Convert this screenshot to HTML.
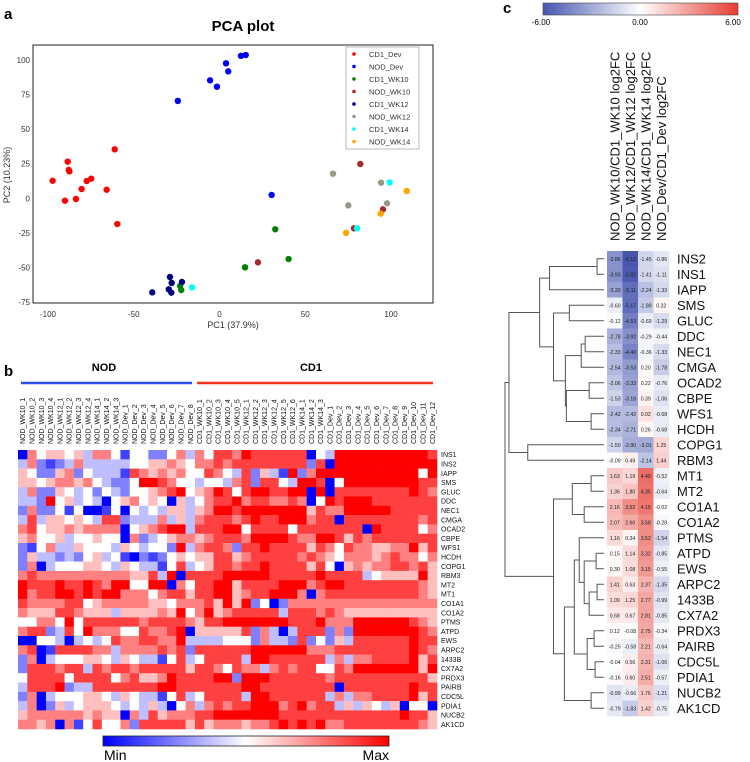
<!DOCTYPE html>
<html><head><meta charset="utf-8"><style>
html,body{margin:0;padding:0;background:#fff}
svg{display:block;font-family:"Liberation Sans",Arial,sans-serif}
</style></head><body>
<svg id="fig" width="750" height="762" viewBox="0 0 750 762" xmlns="http://www.w3.org/2000/svg">
<text x="4" y="19" font-size="15" font-weight="bold">a</text>
<text x="243" y="31" font-size="15" font-weight="bold" text-anchor="middle">PCA plot</text>
<g id="pca"></g>
<text x="4" y="376" font-size="15" font-weight="bold">b</text>
<text x="104" y="371" font-size="11" font-weight="bold" text-anchor="middle">NOD</text>
<text x="311" y="371" font-size="11" font-weight="bold" text-anchor="middle">CD1</text>
<line x1="21" y1="383" x2="192" y2="383" stroke="#2b4ef0" stroke-width="2.5"/>
<line x1="197" y1="383" x2="433" y2="383" stroke="#f0341e" stroke-width="2.5"/>
<g id="hmb"></g>
<defs>
<linearGradient id="gb" x1="0" x2="1" y1="0" y2="0"><stop offset="0" stop-color="#0000ff"/><stop offset="0.5" stop-color="#ffffff"/><stop offset="1" stop-color="#ff0000"/></linearGradient>
<linearGradient id="gc" x1="0" x2="1" y1="0" y2="0"><stop offset="0" stop-color="#4656af"/><stop offset="0.5" stop-color="#ffffff"/><stop offset="1" stop-color="#e63c32"/></linearGradient>
</defs>
<rect x="103" y="736" width="286" height="10" fill="url(#gb)" stroke="#222" stroke-width="0.8"/>
<text x="104" y="760" font-size="14">Min</text>
<text x="389" y="760" font-size="14" text-anchor="end">Max</text>
<text x="503" y="13" font-size="15" font-weight="bold">c</text>
<rect x="543" y="3" width="195" height="12" fill="url(#gc)" stroke="#444" stroke-width="0.6"/>
<text x="541" y="25" font-size="8" text-anchor="middle">-6.00</text>
<text x="640" y="25" font-size="8" text-anchor="middle">0.00</text>
<text x="733" y="25" font-size="8" text-anchor="middle">6.00</text>
<g id="hmc"></g>
</svg>
<script>
// ---------- PCA data ----------
const pcaGroups = ["CD1_Dev","NOD_Dev","CD1_WK10","NOD_WK10","CD1_WK12","NOD_WK12","CD1_WK14","NOD_WK14"];
const pcaColors = ["#ff0000","#0000ff","#008000","#a52a2a","#000080","#999988","#00ffff","#ffa500"];
const pcaX = [
 [-97.3,-90.1,-88.5,-87.9,-87.5,-83.7,-80.4,-77.4,-74.8,-65.8,-61.1,-59.6],
 [-24.3,-5.5,-1.5,3.8,5.1,12.5,15.3,30.4],
 [32.5,40.3,14.9,-23,-22.3],
 [82.1,95.3,78.4,22.4],
 [-39.2,-28.9,-27.9,-21.9,-29.6,-28.1],
 [66.2,94.2,75.1,97.7],
 [99.2,80.2,-16],
 [109.2,94,73.8]];
const pcaY = [
 [12.7,-1.7,26.5,20.5,19.5,-0.5,6.7,12.5,14.2,6.2,35.4,-18.6],
 [70.4,85.3,80.7,97.6,91.8,103,103.6,2.4],
 [-22.4,-43.9,-49.9,-63.4,-66.3],
 [24.8,-8,-21.7,-46.3],
 [-68,-56.9,-61.2,-60.5,-65.8,-68.2],
 [17.8,11.3,-5.1,-3.6],
 [11.5,-21.7,-64.4],
 [5.3,-11.1,-25]];
const pcaXTicks = [-100,-50,0,50,100];
const pcaYTicks = [100,75,50,25,0,-25,-50,-75];

// ---------- Heatmap b data (levels 0=min .. 8=max) ----------
const genesB = ["INS1","INS2","IAPP","SMS","GLUC","DDC","NEC1","CMGA","OCAD2","CBPE","WFS1","HCDH","COPG1","RBM3","MT2","MT1","CO1A1","CO1A2","PTMS","ATPD","EWS","ARPC2","1433B","CX7A2","PRDX3","PAIRB","CDC5L","PDIA1","NUCB2","AK1CD"];
const samplesB = ["NOD_WK10_1","NOD_WK10_2","NOD_WK10_3","NOD_WK10_4","NOD_WK12_1","NOD_WK12_2","NOD_WK12_3","NOD_WK12_4","NOD_WK14_1","NOD_WK14_2","NOD_WK14_3","NOD_Dev_1","NOD_Dev_2","NOD_Dev_3","NOD_Dev_4","NOD_Dev_5","NOD_Dev_6","NOD_Dev_7","NOD_Dev_8",
 "CD1_WK10_1","CD1_WK10_2","CD1_WK10_3","CD1_WK10_4","CD1_WK10_5","CD1_WK12_1","CD1_WK12_2","CD1_WK12_3","CD1_WK12_4","CD1_WK12_5","CD1_WK12_6","CD1_WK14_1","CD1_WK14_2","CD1_WK14_3",
 "CD1_Dev_1","CD1_Dev_2","CD1_Dev_3","CD1_Dev_4","CD1_Dev_5","CD1_Dev_6","CD1_Dev_7","CD1_Dev_8","CD1_Dev_9","CD1_Dev_10","CD1_Dev_11","CD1_Dev_12"];
const valuesNOD = ["0645545366414422463","3621236333334455654","5422562433317656564","5545665643224887644","3622543424324456784","3328453430456454053","2622414001404343553","3735545437723336353","6745565666604567883","5644534454406234566","2146335444354344283","2533232453410212454","2603444554354331473","6766666666665573807","8777877876884488064","8677887878866646775","7666677456666655466","6555776555355556584","4466484777777677776","6772374866644766780","0044303434766776683","6701777766366667672","2603444554354331473","2777677376776777775","4777747777467556877","3777823377777778877","2603444554354331473","3602534555434353046","5666666565506375666","6656061474462777775"];
const valuesCD1 = ["64776877777704388888888887","66767777777727088888888888","47643725318268888888888848","34436727743887048888888877","56874788778808077777777876","46778677667604878887777777","56887888888857668888877777","67776787788867707777777767","77788477774777777708777746","56777688887668875767777777","67762778777757647665566857","55775677777676546665676646","45776778777757405656677675","77788888777778777734555585","77885777788867887777777765","77885677888606777777777765","67585824026666666666666666","68567777737776765555555555","57788888887778666888888765","55555726303777262888888876","33344426332724253777777877","77777788888866677777777876","47777388777777363667777857","77647663676774476888888858","77882888777777677777777775","77777887777777707777777877","47777388777777363667777857","36767788867867735354350440","77888888877777777777778775","75666566787878667777777765"];

// ---------- Heatmap c data (log2FC) ----------
const genesC = ["INS2","INS1","IAPP","SMS","GLUC","DDC","NEC1","CMGA","OCAD2","CBPE","WFS1","HCDH","COPG1","RBM3","MT1","MT2","CO1A1","CO1A2","PTMS","ATPD","EWS","ARPC2","1433B","CX7A2","PRDX3","PAIRB","CDC5L","PDIA1","NUCB2","AK1CD"];
const comparisonsC = ["NOD_WK10/CD1_WK10 log2FC","NOD_WK12/CD1_WK12 log2FC","NOD_WK14/CD1_WK14 log2FC","NOD_Dev/CD1_Dev log2FC"];
const fcWK10 = [-3.86,-3.93,-3.33,-0.60,-0.12,-2.78,-2.33,-2.54,-2.06,-1.53,-2.42,-2.34,-1.50,-0.09,1.63,1.36,2.16,2.07,1.16,0.15,0.30,1.41,1.09,0.68,0.12,-0.25,-0.04,-0.16,-0.99,-0.79];
const fcWK12 = [-6.12,-5.82,-5.11,-5.17,-4.53,-3.92,-4.40,-3.53,-3.33,-3.18,-2.42,-2.71,-2.90,0.49,1.19,1.80,3.52,2.60,0.34,1.14,1.08,0.63,1.25,0.67,-0.08,-0.58,0.56,0.60,-0.66,-1.83];
const fcWK14 = [-1.45,-1.41,-2.24,-1.89,-0.69,-0.29,-0.36,0.20,0.22,0.39,0.92,0.26,-3.01,-2.14,4.49,4.35,4.15,3.58,3.52,3.32,3.15,2.37,2.77,2.81,2.75,2.21,2.31,2.51,1.76,1.42];
const fcDev = [-0.86,-1.11,-1.33,0.32,-1.29,-0.44,-1.33,-1.78,-0.76,-1.06,-0.68,-0.68,1.25,1.44,-0.52,-0.64,-0.02,-0.28,-1.54,-0.85,-0.55,-1.35,-0.99,-0.85,-0.34,-0.64,-1.06,-0.57,-1.21,-0.75];
// dendrogram clusters: [left, right, height]
const clA = [["INS2","INS1",0.7],"IAPP",5.5];
const clC1 = [["DDC","NEC1",1.9],"CMGA",2.3];
const clC2 = [["OCAD2","CBPE",1.5],["WFS1","HCDH",1.3],3.8];
const clBC = [["SMS","GLUC",3.5],[clC1,clC2,3.9],5.1];
const clU = [[clA,clBC,6.5],["COPG1","RBM3",7.7],9.6];
const clM = [["MT1","MT2",1.3],["CO1A1","CO1A2",2.0],3.2];
const clQ = [["ATPD","EWS",0.8],[["ARPC2","1433B",0.7],"CX7A2",1.5],2.0];
const clR = [["PRDX3","PAIRB",1.0],["CDC5L","PDIA1",0.9],1.7];
const clP = [["PTMS",clQ,2.5],clR,3.0];
const clL = [clM,[clP,["NUCB2","AK1CD",1.3],4.0],5.1];
const dendroTree = [clU,clL,10.0];

const NS="http://www.w3.org/2000/svg";
function mk(tag, attrs, parent){const e=document.createElementNS(NS,tag);for(const k in attrs)e.setAttribute(k,attrs[k]);parent.appendChild(e);return e;}

// ---------- PCA ----------
(function(){
 const g=document.getElementById('pca');
 const x0=33,x1=433,y0=45,y1=303;
 const sx=v=>48+(v+100)*1.715, sy=v=>60+(100-v)*1.383;
 const frame=mk('rect',{x:x0,y:y0,width:x1-x0,height:y1-y0,fill:'#fff',stroke:'#222','stroke-width':1},g);
 
 
 pcaXTicks.forEach(t=>{const e=mk('text',{x:sx(t),y:317,'font-size':8,'text-anchor':'middle',fill:'#333'},g);e.textContent=t;
  
  });
 pcaYTicks.forEach(t=>{const e=mk('text',{x:30,y:sy(t)+3,'font-size':8,'text-anchor':'end',fill:'#333'},g);e.textContent=t;
  
  });
 const xl=mk('text',{x:233,y:328,'font-size':9,'text-anchor':'middle',fill:'#333'},g);xl.textContent='PC1  (37.9%)';
 
 
 const yl=mk('text',{x:0,y:0,'font-size':9,'text-anchor':'middle',fill:'#333',transform:'translate(10,175) rotate(-90)'},g);yl.textContent='PC2  (10.23%)';
 
 
 pcaGroups.forEach((grp,i)=>{
  pcaX[i].forEach((xv,j)=>{const c=mk('circle',{cx:sx(xv),cy:sy(pcaY[i][j]),r:3.2,fill:pcaColors[i]},g);
   
   });
 });
 const lg=mk('rect',{x:346,y:47,width:73,height:102,fill:'#fff',stroke:'#aaa','stroke-width':0.8},g);
 
 
 pcaGroups.forEach((grp,i)=>{const yy=54+i*12.5;
  const m=mk('circle',{cx:354,cy:yy,r:1.8,fill:pcaColors[i]},g);
  
  
  const t=mk('text',{x:369,y:yy+2.8,'font-size':7.5,fill:'#333'},g);t.textContent=grp;
  
  });
})();

// ---------- Heatmap b ----------
(function(){
 const g=document.getElementById('hmb');
 const x0=18,y0=450,cw=419/45,rh=279/30;
 function col(l){const t=l/8;let r,gg,b;if(t<0.5){const u=t/0.5;r=Math.round(255*u);gg=r;b=255;}else{const u=(t-0.5)/0.5;r=255;gg=Math.round(255*(1-u));b=gg;}return `rgb(${r},${gg},${b})`;}
 genesB.forEach((gn,i)=>{
  const row=(valuesNOD[i]+valuesCD1[i]);
  samplesB.forEach((s,j)=>{const ch=row[j];const lv=ch===undefined?4:+ch;
   const r=mk('rect',{x:(x0+j*cw).toFixed(2),y:(y0+i*rh).toFixed(2),width:(cw+0.3).toFixed(2),height:(rh+0.3).toFixed(2),fill:col(lv)},g);
   
   });
  const t=mk('text',{x:441,y:(y0+i*rh+rh/2+2.5).toFixed(2),'font-size':7,fill:'#111'},g);t.textContent=gn;
  
  
 });
 samplesB.forEach((s,j)=>{const cx=x0+j*cw+cw/2+2.5;
  const t=mk('text',{x:0,y:0,'font-size':7,'text-anchor':'start',fill:'#111',transform:`translate(${cx.toFixed(2)},444) rotate(-90)`},g);t.textContent=s;
  
  });
})();

// ---------- Heatmap c ----------
(function(){
 const g=document.getElementById('hmc');
 const x0=607,y0=251,cw=15.5,rh=15.5;
 const cols=[fcWK10,fcWK12,fcWK14,fcDev];
 function col(v){const t=Math.max(-1,Math.min(1,v/6));let a=[255,255,255],b;
  if(t<0){b=[70,86,175];}else{b=[230,60,50];}
  const u=Math.abs(t);const c=a.map((x,k)=>Math.round(x+(b[k]-x)*u));return `rgb(${c[0]},${c[1]},${c[2]})`;}
 genesC.forEach((gn,i)=>{
  cols.forEach((arr,j)=>{const v=arr[i];
   const r=mk('rect',{x:x0+j*cw,y:y0+i*rh,width:cw+0.3,height:rh+0.3,fill:col(v)},g);
   
   
   const t=mk('text',{x:x0+j*cw+cw/2,y:y0+i*rh+rh/2+2,'font-size':5.2,'text-anchor':'middle',fill:'#222'},g);t.textContent=v.toFixed(2);
   
   });
  const lt=mk('text',{x:677,y:y0+i*rh+rh/2+4.5,'font-size':13,fill:'#111'},g);lt.textContent=gn;
  
  
 });
 comparisonsC.forEach((c,j)=>{const cx=x0+j*cw+cw/2+4.5;
  const t=mk('text',{x:0,y:0,'font-size':13,'text-anchor':'start',fill:'#111',transform:`translate(${cx},241) rotate(-90)`},g);t.textContent=c;
  
  });
 const leafX=604, left=505, maxH=10;
 const hx=h=>leafX-(h/maxH)*(leafX-left);
 function draw(n){
  if(typeof n==='string'){return {y:y0+genesC.indexOf(n)*rh+rh/2,x:leafX};}
  const a=draw(n[0]),b=draw(n[1]);const x=hx(n[2]);
  const p=mk('path',{d:`M${a.x},${a.y}H${x}V${b.y}H${b.x}`,fill:'none',stroke:'#555','stroke-width':1},g);
  
  
  return {y:(a.y+b.y)/2,x:x};
 }
 draw(dendroTree);
})();
</script>
</body></html>
